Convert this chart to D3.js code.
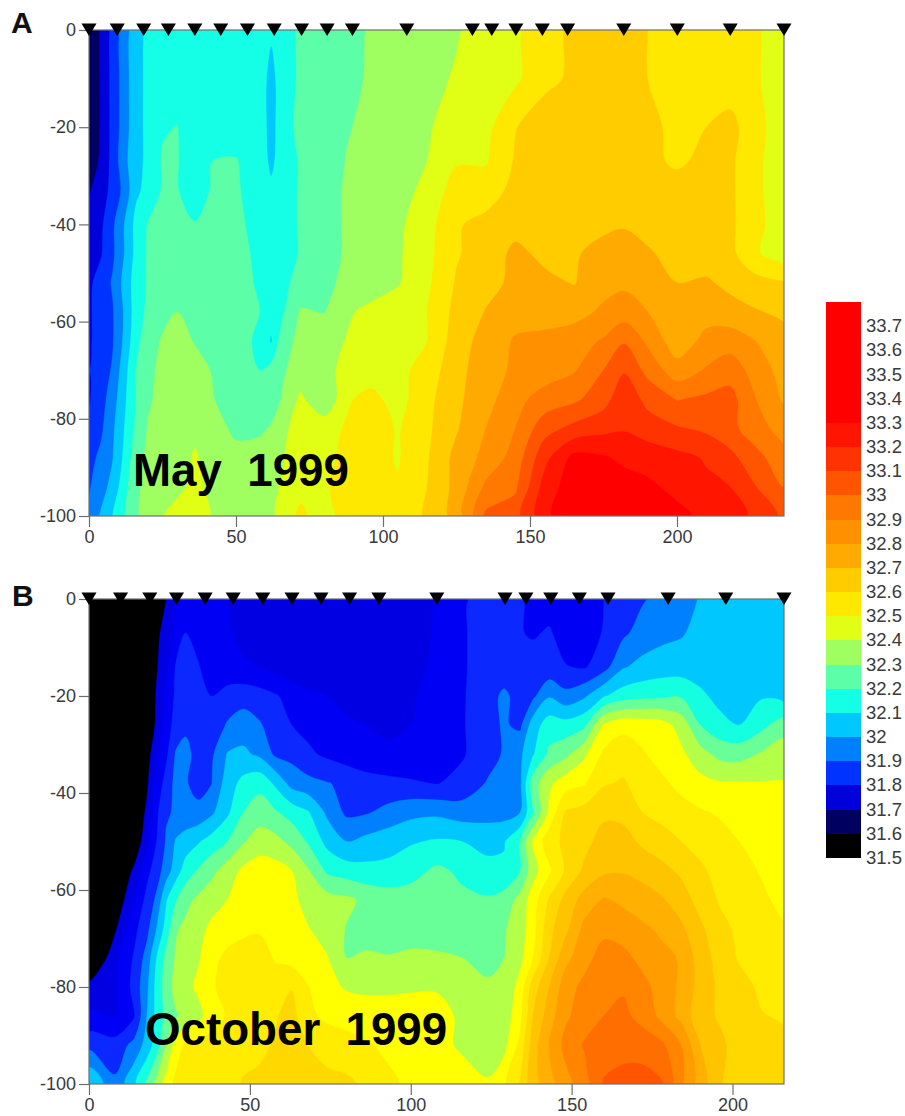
<!DOCTYPE html>
<html><head><meta charset="utf-8">
<script src="https://cdn.jsdelivr.net/npm/d3@7"></script>
<style>
html,body{margin:0;padding:0;background:#fff}
svg{display:block}
text{font-family:"Liberation Sans",Arial,sans-serif}
</style></head><body>
<svg id="c" width="905" height="1116"></svg>
<script>
const mayDistance=[0,4,8,12,16,20,25,30,36,42,50,58,62,66,72,80,88,96,105,115,125,135,145,155,165,175,182,190,200,210,218,226,236];
const mayDepth=[0,-10,-20,-27,-33,-40,-46,-52,-58,-64,-70,-76,-82,-88,-94,-100];
const maySalinity=[
[31.6,31.71,31.83,31.95,32.06,32.12,32.14,32.15,32.15,32.15,32.16,32.16,32.12,32.17,32.21,32.25,32.27,32.31,32.34,32.37,32.39,32.44,32.48,32.56,32.62,32.63,32.62,32.6,32.57,32.55,32.53,32.51,32.47],
[31.6,31.71,31.83,31.95,32.07,32.12,32.14,32.15,32.15,32.15,32.16,32.16,32.06,32.17,32.21,32.25,32.28,32.31,32.34,32.37,32.41,32.44,32.48,32.57,32.62,32.63,32.62,32.6,32.57,32.55,32.53,32.51,32.47],
[31.6,31.71,31.83,31.95,32.07,32.12,32.19,32.203,32.13,32.14,32.16,32.16,32.06,32.17,32.22,32.27,32.295,32.32,32.35,32.395,32.42,32.47,32.595,32.66,32.68,32.69,32.67,32.62,32.58,32.6,32.64,32.53,32.46],
[31.62,31.72,31.83,31.97,32.07,32.12,32.21,32.206,32.14,32.2,32.205,32.15,32.08,32.15,32.21,32.26,32.305,32.32,32.36,32.4,32.49,32.49,32.61,32.66,32.68,32.68,32.67,32.63,32.58,32.63,32.62,32.53,32.44],
[31.69,31.75,31.83,31.93,32.08,32.13,32.21,32.205,32.15,32.21,32.21,32.16,32.12,32.16,32.21,32.27,32.31,32.33,32.37,32.42,32.55,32.55,32.63,32.67,32.69,32.69,32.68,32.67,32.65,32.64,32.62,32.53,32.44],
[31.74,31.78,31.88,32.0,32.13,32.205,32.22,32.225,32.205,32.24,32.22,32.17,32.14,32.16,32.21,32.27,32.31,32.34,32.38,32.46,32.59,32.63,32.67,32.685,32.67,32.68,32.69,32.67,32.66,32.65,32.62,32.54,32.44],
[31.76,31.79,31.88,32.0,32.13,32.21,32.23,32.24,32.25,32.25,32.23,32.18,32.13,32.15,32.21,32.27,32.31,32.34,32.385,32.47,32.59,32.65,32.72,32.68,32.69,32.73,32.75,32.71,32.67,32.66,32.63,32.52,32.44],
[31.78,31.84,31.91,32.03,32.15,32.21,32.24,32.25,32.26,32.27,32.23,32.19,32.14,32.18,32.23,32.28,32.32,32.36,32.39,32.48,32.61,32.67,32.72,32.72,32.695,32.76,32.78,32.73,32.70,32.71,32.68,32.64,32.61],
[31.79,31.83,31.89,32.01,32.15,32.22,32.27,32.3,32.27,32.25,32.22,32.2,32.14,32.19,32.31,32.295,32.39,32.42,32.46,32.5,32.63,32.705,32.76,32.75,32.76,32.82,32.85,32.80,32.72,32.76,32.73,32.71,32.68],
[31.79,31.83,31.89,32.02,32.17,32.25,32.31,32.33,32.295,32.27,32.22,32.19,32.09,32.27,32.32,32.37,32.405,32.43,32.46,32.5,32.65,32.74,32.81,32.83,32.86,32.91,32.99,32.88,32.74,32.83,32.86,32.805,32.74],
[31.8,31.85,31.91,32.06,32.2,32.27,32.33,32.34,32.33,32.295,32.23,32.2,32.24,32.29,32.34,32.38,32.42,32.45,32.47,32.54,32.67,32.75,32.82,32.85,32.89,33.0,33.09,32.97,32.84,32.91,32.95,32.87,32.76],
[31.79,31.86,31.95,32.08,32.2,32.29,32.32,32.36,32.34,32.305,32.25,32.22,32.25,32.31,32.42,32.305,32.49,32.53,32.46,32.57,32.68,32.76,32.87,32.94,32.98,33.06,33.17,33.07,32.995,33.02,33.04,32.91,32.79],
[31.82,31.88,31.98,32.1,32.22,32.305,32.33,32.36,32.38,32.34,32.28,32.28,32.31,32.38,32.44,32.47,32.51,32.56,32.49,32.58,32.69,32.8,32.9,33.06,33.13,33.17,33.19,33.15,33.11,33.08,33.03,32.95,32.86],
[31.87,31.92,31.995,32.12,32.26,32.32,32.34,32.36,32.41,32.36,32.33,32.35,32.37,32.395,32.45,32.48,32.52,32.55,32.49,32.59,32.73,32.83,32.94,33.17,33.33,33.31,33.28,33.26,33.23,33.19,33.13,33.04,32.94],
[31.89,31.96,32.03,32.16,32.28,32.33,32.36,32.38,32.42,32.38,32.35,32.37,32.39,32.405,32.46,32.49,32.53,32.56,32.51,32.6,32.73,32.92,32.98,33.24,33.36,33.36,33.34,33.32,33.27,33.22,33.2,33.11,33.0],
[31.92,32.01,32.1,32.19,32.28,32.35,32.395,32.43,32.43,32.395,32.36,32.38,32.39,32.42,32.53,32.43,32.57,32.58,32.55,32.61,32.74,33.02,33.06,33.27,33.4,33.4,33.4,33.38,33.33,33.27,33.23,33.19,33.08]
];
const octDistance=[0,8,14,18,21,24,27,30,34,38,43,48,53,58,63,68,74,80,86,93,100,108,116,124,129,134,138,143,148,154,160,166,172,178,184,190,196,202,209,216];
const octDepth=[0,-7,-14,-20,-26,-32,-38,-44,-50,-56,-62,-68,-74,-80,-86,-92,-100];
const octSalinity=[
[31.45,31.45,31.47,31.5,31.55,31.6,31.7,31.72,31.74,31.73,31.70,31.68,31.66,31.65,31.64,31.64,31.63,31.63,31.63,31.64,31.66,31.705,31.79,31.83,31.82,31.805,31.79,31.76,31.74,31.72,31.8,31.85,31.89,31.93,31.97,32.005,32.03,32.05,32.06,32.06],
[31.42,31.43,31.45,31.5,31.57,31.65,31.73,31.8,31.77,31.73,31.71,31.68,31.66,31.65,31.64,31.63,31.63,31.62,31.62,31.63,31.66,31.71,31.79,31.84,31.82,31.805,31.79,31.81,31.76,31.73,31.81,31.88,31.94,31.97,31.99,32.03,32.05,32.06,32.07,32.07],
[31.42,31.43,31.45,31.5,31.59,31.67,31.81,31.84,31.805,31.76,31.73,31.71,31.7,31.66,31.64,31.63,31.63,31.62,31.62,31.63,31.67,31.72,31.79,31.84,31.84,31.84,31.84,31.83,31.805,31.79,31.86,31.99,32.03,32.05,32.05,32.05,32.06,32.07,32.08,32.08],
[31.42,31.43,31.45,31.5,31.61,31.72,31.82,31.86,31.82,31.8,31.84,31.86,31.84,31.81,31.76,31.72,31.7,31.66,31.63,31.63,31.69,31.73,31.79,31.86,31.92,31.86,31.88,31.99,31.93,31.985,32.09,32.15,32.17,32.18,32.19,32.12,32.07,32.06,32.09,32.06],
[31.42,31.43,31.45,31.5,31.62,31.75,31.84,31.88,31.84,31.83,31.91,31.95,31.91,31.85,31.8,31.77,31.74,31.72,31.7,31.69,31.7,31.74,31.79,31.87,31.91,31.88,32.05,32.15,32.14,32.18,32.41,32.47,32.46,32.44,32.36,32.2,32.13,32.1,32.17,32.25],
[31.42,31.43,31.45,31.55,31.68,31.78,31.91,31.93,31.86,31.88,32.005,32.02,31.98,31.88,31.87,31.82,31.78,31.75,31.72,31.71,31.71,31.75,31.79,31.86,31.91,31.98,32.09,32.22,32.27,32.38,32.52,32.56,32.51,32.46,32.42,32.34,32.27,32.26,32.31,32.36],
[31.42,31.43,31.47,31.58,31.73,31.84,31.93,31.91,31.86,31.895,32.05,32.13,32.17,32.08,31.96,31.93,31.905,31.88,31.85,31.83,31.815,31.795,31.83,31.91,31.95,31.98,32.25,32.38,32.45,32.49,32.59,32.61,32.56,32.52,32.47,32.43,32.41,32.41,32.405,32.405],
[31.42,31.43,31.5,31.62,31.78,31.89,31.91,31.92,31.93,31.98,32.08,32.2,32.25,32.21,32.16,32.11,31.98,31.88,31.89,31.93,31.97,31.98,31.95,31.96,31.96,32.0,32.19,32.42,32.61,32.64,32.68,32.67,32.6,32.57,32.54,32.51,32.49,32.46,32.44,32.42],
[31.42,31.43,31.5,31.68,31.8,31.91,32.01,32.05,32.09,32.14,32.2,32.29,32.35,32.33,32.27,32.19,32.07,32.0,32.03,32.06,32.09,32.11,32.1,32.07,32.09,32.2,32.41,32.56,32.62,32.67,32.74,32.74,32.68,32.64,32.6,32.56,32.53,32.5,32.46,32.43],
[31.42,31.45,31.62,31.77,31.85,31.95,32.05,32.14,32.21,32.27,32.35,32.42,32.45,32.44,32.4,32.31,32.18,32.15,32.13,32.13,32.16,32.22,32.18,32.13,32.12,32.2,32.36,32.48,32.61,32.72,32.78,32.79,32.77,32.73,32.68,32.62,32.56,32.54,32.49,32.45],
[31.42,31.5,31.7,31.83,31.92,32.09,32.19,32.27,32.32,32.36,32.4,32.47,32.49,32.47,32.42,32.37,32.34,32.32,32.28,32.25,32.25,32.24,32.22,32.21,32.24,32.33,32.45,32.61,32.73,32.84,32.91,32.88,32.84,32.81,32.75,32.66,32.59,32.56,32.52,32.47],
[31.42,31.58,31.77,31.87,32.0,32.14,32.29,32.32,32.37,32.42,32.44,32.47,32.49,32.46,32.43,32.405,32.36,32.295,32.24,32.22,32.21,32.2,32.2,32.24,32.29,32.35,32.46,32.67,32.77,32.93,32.97,32.95,32.92,32.88,32.82,32.72,32.63,32.58,32.55,32.51],
[31.45,31.67,31.81,31.94,32.1,32.23,32.31,32.35,32.39,32.46,32.53,32.56,32.54,32.49,32.46,32.43,32.405,32.3,32.32,32.31,32.34,32.33,32.3,32.26,32.3,32.37,32.5,32.7,32.87,32.96,33.05,33.03,32.97,32.93,32.89,32.75,32.66,32.59,32.56,32.53],
[31.63,31.68,31.83,31.98,32.13,32.25,32.33,32.37,32.42,32.48,32.55,32.57,32.56,32.55,32.595,32.505,32.43,32.39,32.38,32.38,32.39,32.395,32.37,32.32,32.31,32.44,32.65,32.8,32.95,33.03,33.08,33.09,33.03,32.96,32.88,32.76,32.68,32.64,32.58,32.55],
[31.72,31.7,31.79,32.0,32.13,32.23,32.29,32.32,32.37,32.45,32.51,32.55,32.58,32.59,32.64,32.52,32.48,32.46,32.45,32.45,32.44,32.42,32.39,32.34,32.34,32.47,32.7,32.85,32.98,33.05,33.1,33.12,33.07,32.97,32.87,32.73,32.69,32.66,32.605,32.59],
[31.87,31.84,31.93,32.04,32.15,32.3,32.44,32.52,32.53,32.54,32.55,32.56,32.58,32.61,32.64,32.6,32.56,32.54,32.51,32.48,32.45,32.42,32.39,32.35,32.37,32.53,32.75,32.9,33.03,33.11,33.15,33.16,33.15,33.12,33.0,32.8,32.72,32.66,32.63,32.62],
[32.1,31.92,32.08,32.22,32.33,32.44,32.53,32.54,32.55,32.55,32.56,32.61,32.62,32.63,32.64,32.64,32.63,32.62,32.58,32.52,32.48,32.45,32.43,32.41,32.48,32.61,32.76,32.86,32.96,33.05,33.21,33.24,33.25,33.21,33.02,32.85,32.71,32.64,32.62,32.61]
];
const mayStations=[0,9.6,18.6,27,36,44.8,53.9,63,72.3,81,89.6,108.1,130.4,137,145.2,154.2,162.8,181.9,200.1,218.1,236.4];
const octStations=[0,9.8,18.9,27.2,36.1,44.8,54,63.1,72.1,81,90.1,108.1,129.3,135.8,143.5,152.4,161.3,180,197.9,216];
const barLevels=d3.range(0,23).map(i=>+(31.5+i*0.1).toFixed(1));
const barColors=["#000000","#000060","#0000dc","#0033ff","#0080ff","#00c8ff","#14ffe6","#5cffa8","#a0ff60","#e0ff14","#ffe800","#ffcc00","#ffaa00","#ff9000","#ff7800","#ff5500","#ff3300","#ff1500","#ff0000","#ff0000","#ff0000","#ff0000","#ff0000"];
const octLevels=[31.5,31.6,31.7,31.8,31.9,32.0,32.1,32.2,32.3,32.4,32.5,32.6,32.7,32.8,32.9,33.0,33.1,33.2];
const octColors=["#000000","#0000e2","#0000f4","#0a28ff","#0080ff","#00c8ff","#14ffe0","#68ff98","#b4ff48","#ffff00","#ffec00","#ffd800","#ffc400","#ffb000","#ff9c00","#ff8400","#ff6e00","#ff5500"];
const xTicksMay=[0,50,100,150,200];
const xTicksOct=[0,50,100,150,200];
const yTicks=[0,-20,-40,-60,-80,-100];

const svg=d3.select("#c");
const AX="#6e6e6e", TX="#3a3a3a";
function panel(o){
  const x=d3.scaleLinear().domain([0,o.xMax]).range([89,784]);
  const y=d3.scaleLinear().domain([0,-100]).range([o.top,o.bottom]);
  const g=svg.append("g");
  const cid="clip"+o.name;
  g.append("clipPath").attr("id",cid).append("rect").attr("x",89).attr("y",o.top).attr("width",695).attr("height",o.bottom-o.top);
  const n=o.dist.length,m=o.depth.length;
  const ix=d3.scaleLinear().domain(o.dist.map((d,i)=>i+0.5)).range(o.dist.map(d=>x(d)));
  const iy=d3.scaleLinear().domain(o.depth.map((d,i)=>i+0.5)).range(o.depth.map(d=>y(d)));
  const conts=d3.contours().size([n,m]).thresholds(o.levels)(o.grid.flat());
  const ringLine=d3.line().curve(d3.curveCatmullRomClosed.alpha(0.5));
  const plot=g.append("g").attr("clip-path",`url(#${cid})`);
  plot.append("rect").attr("x",89).attr("y",o.top).attr("width",695).attr("height",o.bottom-o.top).attr("fill",o.base);
  conts.forEach((c,i)=>{
    const d=c.coordinates.map(poly=>poly.map(ring=>{
      const pts=ring.slice(0,-1).map(q=>[ix(q[0]),iy(q[1])])
        .filter((p,k,a)=>{const q=a[(k+1)%a.length];return Math.hypot(p[0]-q[0],p[1]-q[1])>0.6;});
      return pts.length>2?ringLine(pts):"";
    }).join("")).join("");
    if(d) plot.append("path").attr("d",d).attr("fill",o.colors[i]).attr("stroke",o.colors[i]).attr("stroke-width",0.4);
  });
  g.append("rect").attr("x",89).attr("y",o.top).attr("width",695).attr("height",o.bottom-o.top).attr("fill","none").attr("stroke",AX).attr("stroke-width",1.2);
  const ya=d3.axisLeft(y).tickValues(yTicks).tickSize(10).tickPadding(3).tickFormat(d=>String(d));
  const xa=d3.axisBottom(x).tickValues(o.xTicks).tickSize(11).tickPadding(3).tickFormat(d=>String(d));
  const gy=g.append("g").attr("transform","translate(89,0)").call(ya);
  const gx=g.append("g").attr("transform",`translate(0,${o.bottom})`).call(xa);
  [gy,gx].forEach(a=>{a.select(".domain").remove();a.selectAll("line").attr("stroke",AX).attr("stroke-width",1.2);
    a.selectAll("text").attr("fill",TX).style("font-size","18px").style("font-family",'"Liberation Sans",Arial,sans-serif');});
  g.selectAll("path.st").data(o.stations).join("path").attr("class","st")
    .attr("d",d=>{const X=x(d);return `M${X-7.5},${o.top-6.5}L${X+7.5},${o.top-6.5}L${X},${o.top+6}Z`;}).attr("fill","#000");
  g.append("text").attr("x",o.letterX).attr("y",o.letterY).attr("font-weight","bold").attr("font-size",30).attr("fill","#111").text(o.name);
  g.append("text").attr("x",o.titleX).attr("y",o.titleY).attr("font-weight","bold").attr("font-size",45.7).attr("fill","#000").style("white-space","pre").text(o.title);
}
panel({name:"A",title:"May  1999",top:30,bottom:516,xMax:236.4,dist:mayDistance,depth:mayDepth,grid:maySalinity,levels:barLevels,colors:barColors,base:"#000060",stations:mayStations,xTicks:xTicksMay,letterX:11,letterY:33,titleX:133,titleY:486});
panel({name:"B",title:"October  1999",top:599,bottom:1084,xMax:216,dist:octDistance,depth:octDepth,grid:octSalinity,levels:octLevels,colors:octColors,base:"#000000",stations:octStations,xTicks:xTicksOct,letterX:12,letterY:606,titleX:145,titleY:1045});
const cb=d3.scaleLinear().domain([31.5,33.8]).range([857.5,301.5]);
const bar=svg.append("g").attr("shape-rendering","crispEdges");
bar.selectAll("rect").data(barLevels).join("rect")
  .attr("x",826).attr("width",35).attr("y",d=>cb(d+0.1)).attr("height",d=>cb(d)-cb(d+0.1)+0.5)
  .attr("fill",(d,i)=>barColors[i]);
svg.append("g").selectAll("text").data(barLevels).join("text")
  .attr("x",866).attr("y",d=>cb(d)+6.5).attr("font-size",18.5).attr("fill",TX).text(d=>String(d));
</script>
</body></html>
